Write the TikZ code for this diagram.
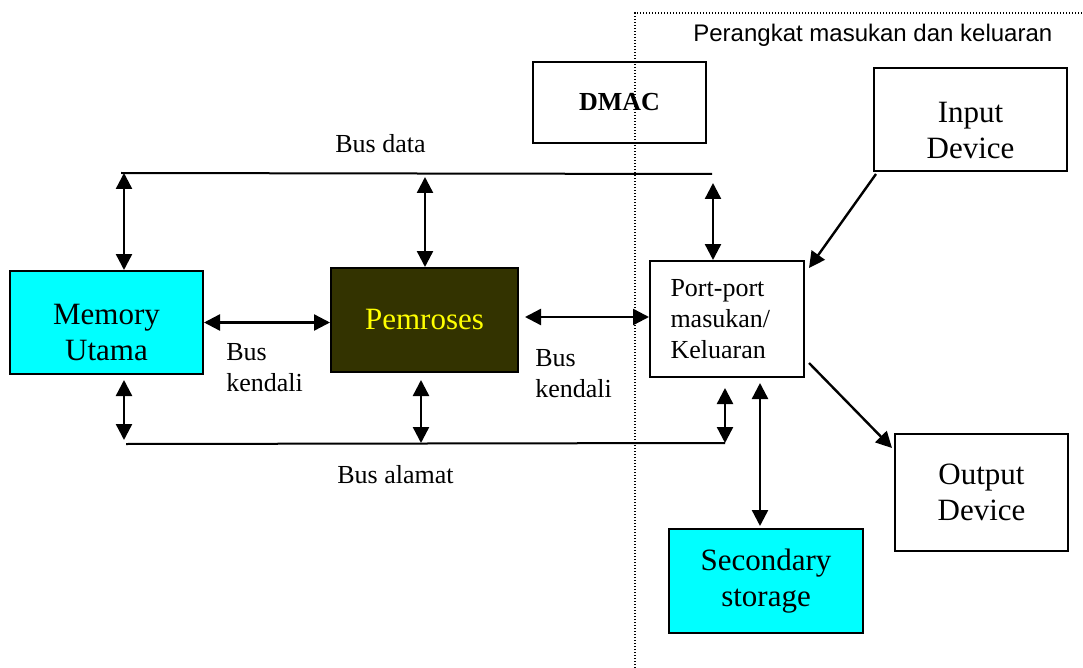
\documentclass[tikz,border=0pt]{standalone}
\usepackage{fontspec}
\setmainfont{Liberation Serif}
\newfontfamily\arialfont{Liberation Sans}
\usetikzlibrary{arrows.meta,calc}

\definecolor{aqua}{RGB}{0,255,255}
\definecolor{olivebox}{RGB}{51,51,0}
\definecolor{yellowtext}{RGB}{255,255,0}
\newcommand{\padtop}[1]{\rule{0pt}{#1}}

\tikzset{every picture/.style={line width=0.75pt}}
\tikzset{
	unitbox/.style={draw, line width=2pt, inner sep=0pt, align=center},
	bigtxt/.style={font=\fontsize{31}{36}\selectfont},
	smalltxt/.style={font=\fontsize{26}{31}\selectfont, inner sep=0pt},
	busline/.style={line width=2pt},
	biarrow/.style={line width=2.4pt, {Triangle[length=16pt,width=16pt]}-{Triangle[length=16pt,width=16pt]}},
	onearrow/.style={line width=2.4pt, -{Triangle[length=16pt,width=16pt]}}
}

\begin{document}
\begin{tikzpicture}[x=1pt,y=1pt,yscale=-1,xscale=1]
		\useasboundingbox (0,0) rectangle (1083,668);

		%Shape: Rectangle
		\node[unitbox, bigtxt, fill=aqua, minimum width=193, minimum height=103] (mem) at (106.5,322.5) {\padtop{41pt}Memory\\Utama};
		%Shape: Rectangle
		\node[unitbox, bigtxt, fill=olivebox, text=yellowtext, minimum width=187, minimum height=104] (pem) at (424.5,320) {Pemroses};
		%Shape: Rectangle
		\node[unitbox, font=\bfseries\fontsize{26}{31}\selectfont, minimum width=173, minimum height=81] (dmac) at (619.5,102.5) {DMAC};
		%Shape: Rectangle
		\node[unitbox, font=\fontsize{26}{31}\selectfont, align=left, text width=113, minimum width=154, minimum height=116] (port) at (727,319) {Port-port\\masukan/\\Keluaran};
		%Shape: Rectangle
		\node[unitbox, bigtxt, minimum width=193, minimum height=103] (inp) at (970.5,119.5) {\padtop{43pt}Input\\Device};
		%Shape: Rectangle
		\node[unitbox, bigtxt, minimum width=173, minimum height=117] (outp) at (981.5,492.5) {Output\\Device};
		%Shape: Rectangle
		\node[unitbox, bigtxt, fill=aqua, minimum width=194, minimum height=104] (sec) at (766,581) {Secondary\\storage};

		%Straight Lines (bus data)
		\coordinate (dataL) at (121,173);
		\coordinate (dataR) at (712,174);
		\draw[busline] (dataL) -- (dataR);
		%Straight Lines (bus alamat)
		\coordinate (addrL) at (126,444);
		\coordinate (addrR) at (725,443);
		\draw[busline] (addrL) -- (addrR);

		%taps on bus data
		\coordinate (dMem) at (124,173);
		\coordinate (dPem) at (425,173);
		\coordinate (dPort) at (713,174);
		\draw[biarrow] (dMem) -- (dMem |- mem.north);
		\draw[biarrow, shorten <=4pt] (dPem) -- (dPem |- pem.north);
		\draw[biarrow, shorten <=9pt] (dPort) -- (dPort |- port.north);

		%taps on bus alamat
		\coordinate (aMem) at (124,444);
		\coordinate (aPem) at (421,444);
		\draw[biarrow, shorten <=5pt, shorten >=4pt] (aMem |- mem.south) -- (aMem);
		\draw[biarrow, shorten <=7pt, shorten >=1pt] (aPem |- pem.south) -- (aPem);
		\draw[biarrow, shorten <=10pt] (addrR |- port.south) -- (addrR);

		%bus kendali
		\draw[biarrow] (mem.east) -- (mem.east -| pem.west);
		\draw[biarrow, shorten <=6pt] ([yshift=-3pt]pem.east) -- ([yshift=-3pt]pem.east -| port.west);

		%devices
		\coordinate (sTop) at ($(sec.north)+(-6,0)$);
		\draw[biarrow, shorten <=5pt, shorten >=2pt] (sTop |- port.south) -- (sTop);
		\draw[onearrow] ($(inp.south west)+(3,2)$) -- ($(port.north east)+(4,8)$);
		\draw[onearrow] ($(port.east)+(4,44)$) -- ($(outp.north west)+(-2,15)$);

		%Dotted border
		\draw[line width=1.4pt, dash pattern=on 1.4pt off 1.6pt] (635,668) -- (635,13) -- (1083,13);

		% Text Node
		\node[anchor=base west, inner sep=0pt, font=\arialfont\fontsize{24}{28}\selectfont] (title) at (693,42) {Perangkat masukan dan keluaran};
		% Text Node
		\node[smalltxt, anchor=base west] (lblData) at (335,153) {Bus data};
		% Text Node
		\node[smalltxt, anchor=base west] (lblAddr) at (337,483) {Bus alamat};
		% Text Node
		\node[smalltxt, anchor=north west, align=left] (lblCtlA) at (226,343) {Bus\\kendali};
		% Text Node
		\node[smalltxt, anchor=north west, align=left] (lblCtlB) at (535,349) {Bus\\kendali};
\end{tikzpicture}
\end{document}
